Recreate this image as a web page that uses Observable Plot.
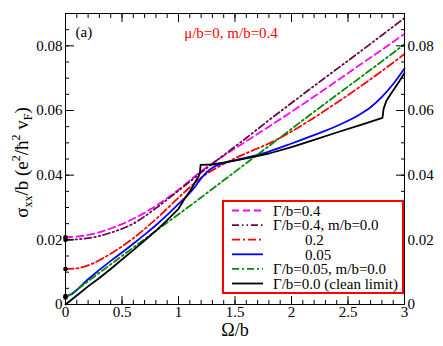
<!DOCTYPE html>
<html>
<head>
<meta charset="utf-8">
<script src="https://cdn.jsdelivr.net/npm/d3@7"></script>
<script src="https://cdn.jsdelivr.net/npm/@observablehq/plot@0.6"></script>
<style>
  html, body { margin: 0; padding: 0; background: #fff; }
  #chart svg { display: block; }
</style>
</head>
<body>
<div id="chart"></div>
<script>
// ---------- data ----------
const omegaG04 = [0, 0.2, 0.4, 0.6, 0.8, 1.0, 1.2, 1.4, 1.6, 1.8, 2.0, 2.2, 2.4, 2.6, 2.8, 3.0];
const sigmaG04 = [0.0208, 0.0215, 0.0235, 0.0265, 0.0305, 0.0355, 0.0412, 0.0460, 0.0505, 0.0550, 0.0596, 0.0643, 0.0691, 0.0740, 0.0788, 0.0837];

const omegaG04m0 = [0, 0.2, 0.4, 0.6, 0.8, 1.0, 1.2, 1.4, 1.6, 1.8, 2.0, 2.2, 2.4, 2.6, 2.8, 3.0];
const sigmaG04m0 = [0.0200, 0.0205, 0.0222, 0.0250, 0.0298, 0.0352, 0.0408, 0.0462, 0.0515, 0.0570, 0.0623, 0.0676, 0.0728, 0.0780, 0.0833, 0.0886];

const omegaG02 = [0, 0.1, 0.2, 0.3, 0.4, 0.6, 0.8, 1.0, 1.2, 1.4, 1.6, 1.8, 2.0, 2.2, 2.4, 2.6, 2.8, 3.0];
const sigmaG02 = [0.0110, 0.0112, 0.0121, 0.0137, 0.0157, 0.0205, 0.0264, 0.0330, 0.0392, 0.0435, 0.0468, 0.0498, 0.0535, 0.0578, 0.0624, 0.0672, 0.0722, 0.0775];

const omegaG005 = [0, 0.05, 0.1, 0.2, 0.3, 0.4, 0.5, 0.6, 0.7, 0.8, 0.9, 1.0, 1.1, 1.15, 1.2, 1.25, 1.3, 1.4, 1.5, 1.6, 1.8, 2.0, 2.2, 2.4, 2.6, 2.7, 2.8, 2.9, 3.0];
const sigmaG005 = [0.0026, 0.0031, 0.0045, 0.0078, 0.0107, 0.0135, 0.0161, 0.0188, 0.0216, 0.0245, 0.0277, 0.0311, 0.0345, 0.0366, 0.0390, 0.0409, 0.0423, 0.0437, 0.0446, 0.0454, 0.0473, 0.0498, 0.0524, 0.0552, 0.0587, 0.0610, 0.0642, 0.0682, 0.0730];

const omegaG005m0 = [0, 0.1, 0.2, 0.4, 0.6, 0.8, 1.0, 1.2, 1.4, 1.6, 1.8, 2.0, 2.2, 2.4, 2.6, 2.8, 3.0];
const sigmaG005m0 = [0.0022, 0.0045, 0.0072, 0.0124, 0.0176, 0.0228, 0.0279, 0.0331, 0.0384, 0.0437, 0.0490, 0.0543, 0.0596, 0.0648, 0.0700, 0.0752, 0.0805];

const omegaClean = [0, 0.1, 0.2, 0.3, 0.4, 0.5, 0.6, 0.7, 0.8, 0.9, 1.0, 1.05, 1.1, 1.15, 1.18, 1.19, 1.193, 1.195, 1.3, 1.45, 1.6, 1.8, 2.0, 2.2, 2.4, 2.6, 2.805, 2.815, 2.84, 2.88, 2.94, 3.0];
const sigmaClean = [0, 0.0028, 0.0056, 0.0082, 0.0110, 0.0139, 0.0168, 0.0198, 0.0228, 0.0261, 0.0296, 0.0325, 0.0350, 0.0380, 0.0398, 0.0410, 0.0420, 0.0432, 0.0433, 0.0442, 0.0452, 0.0467, 0.0487, 0.0509, 0.0532, 0.0554, 0.0577, 0.0605, 0.0630, 0.0652, 0.0683, 0.0716];

const seriesLabels = ["Γ/b=0.4", "Γ/b=0.4, m/b=0.0", "0.2", "0.05", "Γ/b=0.05, m/b=0.0", "Γ/b=0.0 (clean limit)"];
const seriesIndent = [false, false, true, true, false, false];
const seriesColors = ["#ff00ff", "#670748", "#ff0000", "#0000ff", "#008b00", "#000000"];
const seriesDash = ["7,4", "7,3,1.5,3,1.5,3", "8,3,2,3", null, "7,3,2,3", null];
const seriesOmega = [omegaG04, omegaG04m0, omegaG02, omegaG005, omegaG005m0, omegaClean];
const seriesSigma = [sigmaG04, sigmaG04m0, sigmaG02, sigmaG005, sigmaG005m0, sigmaClean];

const xMajorTicks = [0, 0.5, 1, 1.5, 2, 2.5, 3];
const xTickLabels = ["0", "0.5", "1", "1.5", "2", "2.5", "3"];
const yMajorTicks = [0, 0.02, 0.04, 0.06, 0.08];
const yTickLabels = ["0", "0.02", "0.04", "0.06", "0.08"];
const xMinorTicks = d3.range(0, 3.0001, 0.1).map(v => +v.toFixed(2));
const yMinorTicks = d3.range(0, 0.0901, 0.005).map(v => +v.toFixed(4));

const titleText = "μ/b=0, m/b=0.4";
const panelText = "(a)";
const xLabel = "Ω/b";

// ---------- build ----------
const FONT = "Liberation Serif, Times New Roman, DejaVu Serif, serif";
const series = seriesLabels.map((label, i) => ({
  label, color: seriesColors[i], dash: seriesDash[i], indent: seriesIndent[i],
  points: seriesOmega[i].map((o, j) => ({x: o, y: seriesSigma[i][j]}))
}));
const startDots = series.slice(0, 5).map(s => s.points[0]);

const xFmt = d => xTickLabels[xMajorTicks.indexOf(d)];
const yFmt = d => yTickLabels[yMajorTicks.findIndex(v => Math.abs(v - d) < 1e-9)];
const textStyle = {fontFamily: FONT, fontSize: 15, fill: "black"};

const plot = Plot.plot({
  width: 443,
  height: 346,
  marginLeft: 65,
  marginRight: 39,
  marginTop: 13,
  marginBottom: 42,
  x: {domain: [0, 3]},
  y: {domain: [0, 0.09]},
  style: {fontFamily: FONT, fontSize: "15px", color: "black", background: "white", overflow: "visible"},
  marks: [
    ...series.map(s => Plot.line(s.points, {
      x: "x", y: "y", stroke: s.color, strokeWidth: 1.8,
      strokeDasharray: s.dash || undefined,
      curve: s.label.includes("clean") ? "linear" : "monotone-x"
    })),
    Plot.dot(startDots, {x: "x", y: "y", r: 2.3, fill: "black", stroke: "none"}),
    Plot.frame({stroke: "black", strokeWidth: 1}),
    Plot.axisX({anchor: "bottom", ticks: xMajorTicks, tickSize: -8, fill: "none", label: null}),
    Plot.axisX({anchor: "bottom", ticks: xMinorTicks, tickSize: -4, fill: "none", label: null}),
    Plot.axisX({anchor: "top", ticks: xMajorTicks, tickSize: -8, fill: "none", label: null}),
    Plot.axisX({anchor: "top", ticks: xMinorTicks, tickSize: -4, fill: "none", label: null}),
    Plot.axisY({anchor: "left", ticks: yMajorTicks, tickSize: -9, fill: "none", label: null}),
    Plot.axisY({anchor: "left", ticks: yMinorTicks, tickSize: -4, fill: "none", label: null}),
    Plot.axisY({anchor: "right", ticks: yMajorTicks, tickSize: -9, fill: "none", label: null}),
    Plot.axisY({anchor: "right", ticks: yMinorTicks, tickSize: -4, fill: "none", label: null}),
    Plot.axisX({anchor: "bottom", ticks: xMajorTicks, tickSize: 0, tickPadding: 2, tickFormat: xFmt, label: null, ...textStyle}),
    Plot.axisY({anchor: "left", ticks: yMajorTicks, tickSize: 0, tickPadding: 3, tickFormat: yFmt, label: null, ...textStyle}),
    Plot.axisY({anchor: "right", ticks: yMajorTicks, tickSize: 0, tickPadding: 3, tickFormat: yFmt, label: null, ...textStyle}),
    Plot.text([panelText], {frameAnchor: "top-left", dx: 10, dy: 19, textAnchor: "start", lineAnchor: "middle", fontFamily: FONT, fontSize: 15, fill: "black"}),
    Plot.text([titleText], {frameAnchor: "top", dx: -4, dy: 20, textAnchor: "middle", lineAnchor: "middle", fontFamily: FONT, fontSize: 15, fill: "#ff0000"}),
    Plot.text([xLabel], {frameAnchor: "bottom", dy: 26, lineAnchor: "middle", fontFamily: FONT, fontSize: 18, fill: "black"})
  ]
});

document.getElementById("chart").appendChild(plot);

// ---------- y label with sub/superscripts ----------
const svg = d3.select(plot);
const yl = svg.append("text")
  .attr("transform", `translate(28,${(13 + 304) / 2 + 4}) rotate(-90)`)
  .attr("text-anchor", "middle")
  .attr("font-family", FONT)
  .attr("font-size", 19)
  .attr("fill", "black");
yl.append("tspan").text("σ");
yl.append("tspan").attr("font-size", 12).attr("dy", 4).text("xx");
yl.append("tspan").attr("dy", -4).text("/b (e");
yl.append("tspan").attr("font-size", 12).attr("dy", -8).text("2");
yl.append("tspan").attr("dy", 8).text("/ħ");
yl.append("tspan").attr("font-size", 12).attr("dy", -8).text("2");
yl.append("tspan").attr("dy", 8).text(" v");
yl.append("tspan").attr("font-size", 12).attr("dy", 4).text("F");
yl.append("tspan").attr("dy", -4).text(")");

// ---------- legend ----------
const lg = svg.append("g").attr("text-anchor", "start");
lg.append("rect").attr("x", 223).attr("y", 201).attr("width", 180).attr("height", 92)
  .attr("fill", "white").attr("stroke", "#ff0000").attr("stroke-width", 2);
series.forEach((s, i) => {
  const yy = 210.5 + i * 14.6;
  lg.append("line").attr("x1", 232).attr("x2", 263).attr("y1", yy).attr("y2", yy)
    .attr("stroke", s.color).attr("stroke-width", 1.8)
    .attr("stroke-dasharray", s.dash || null);
  lg.append("text").attr("x", s.indent ? 305 : 273).attr("y", yy).attr("dy", "0.35em")
    .attr("text-anchor", "start")
    .attr("font-family", FONT).attr("font-size", 15).attr("fill", "black").text(s.label);
});
</script>
</body>
</html>
